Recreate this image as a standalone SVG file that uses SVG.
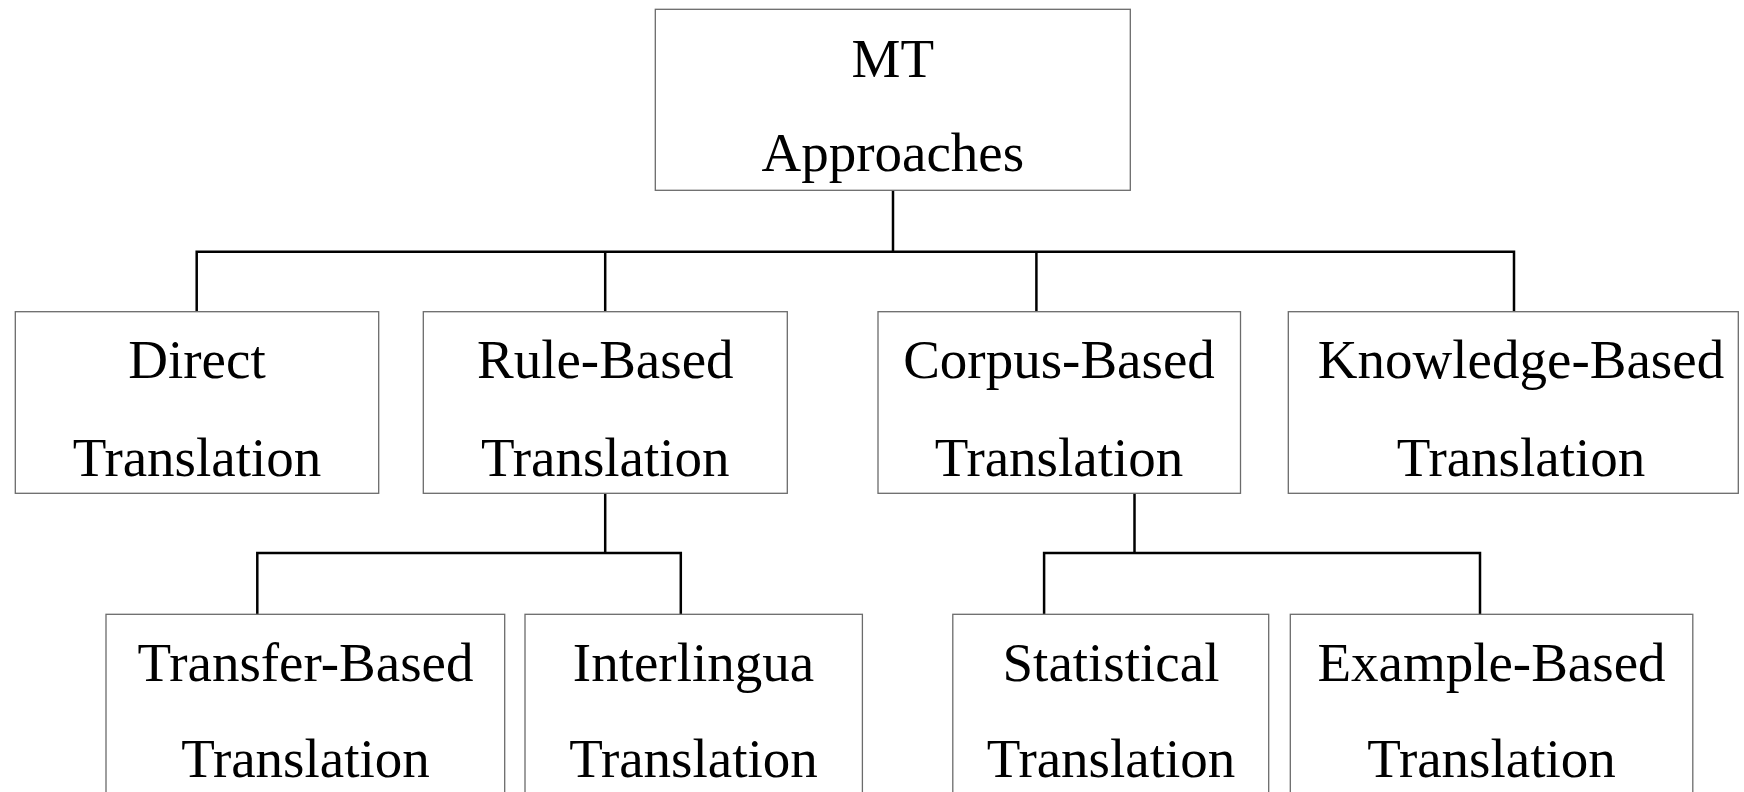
<svg xmlns="http://www.w3.org/2000/svg" width="1744" height="792" viewBox="0 0 1744 792">
  <style>
    .box { fill: #ffffff; stroke: #6b6b6b; stroke-width: 1.3; }
    .label { font-family: "Liberation Serif", "Times New Roman", serif; font-size: 55px; fill: #000000; text-anchor: middle; }
    .wire { fill: none; stroke: #000000; stroke-width: 2.5; stroke-linecap: butt; stroke-linejoin: miter; }
  </style>
  <rect width="1744" height="792" fill="#ffffff"/>

  <!-- tree connectors -->
  <g id="connectors">
    <path class="wire" d="M893,190 V251.8"/>
    <path class="wire" d="M196.7,311 V251.8 H1514 V311"/>
    <path class="wire" d="M605.2,251.8 V311"/>
    <path class="wire" d="M1036.4,251.8 V311"/>
    <path class="wire" d="M605.2,493.5 V553"/>
    <path class="wire" d="M257.3,614.3 V553 H680.8 V614.3"/>
    <path class="wire" d="M1134.5,493.5 V553"/>
    <path class="wire" d="M1044.1,614.3 V553 H1480 V614.3"/>
  </g>

  <!-- root -->
  <g id="node-mt-approaches">
    <rect class="box" x="655.3" y="9.3" width="475" height="181"/>
    <text class="label" x="892.8" y="76.5">MT</text>
    <text class="label" x="892.8" y="171">Approaches</text>
  </g>

  <!-- second level -->
  <g id="node-direct">
    <rect class="box" x="15.3" y="311.7" width="363.4" height="181.6"/>
    <text class="label" x="197" y="378">Direct</text>
    <text class="label" x="197" y="475.5">Translation</text>
  </g>
  <g id="node-rule-based">
    <rect class="box" x="423.3" y="311.7" width="364" height="181.6"/>
    <text class="label" x="605.3" y="378">Rule-Based</text>
    <text class="label" x="605.3" y="475.5">Translation</text>
  </g>
  <g id="node-corpus-based">
    <rect class="box" x="878" y="311.7" width="362.5" height="181.6"/>
    <text class="label" x="1059" y="378">Corpus-Based</text>
    <text class="label" x="1059" y="475.5">Translation</text>
  </g>
  <g id="node-knowledge-based">
    <rect class="box" x="1288.3" y="311.7" width="450" height="181.6"/>
    <text class="label" x="1521" y="378">Knowledge-Based</text>
    <text class="label" x="1521" y="475.5">Translation</text>
  </g>

  <!-- third level -->
  <g id="node-transfer-based">
    <rect class="box" x="106" y="614.3" width="398.7" height="200"/>
    <text class="label" x="305.5" y="681">Transfer-Based</text>
    <text class="label" x="305.5" y="776.5">Translation</text>
  </g>
  <g id="node-interlingua">
    <rect class="box" x="525" y="614.3" width="337.4" height="200"/>
    <text class="label" x="693.5" y="681">Interlingua</text>
    <text class="label" x="693.5" y="776.5">Translation</text>
  </g>
  <g id="node-statistical">
    <rect class="box" x="952.8" y="614.3" width="315.9" height="200"/>
    <text class="label" x="1111" y="681">Statistical</text>
    <text class="label" x="1111" y="776.5">Translation</text>
  </g>
  <g id="node-example-based">
    <rect class="box" x="1290.3" y="614.3" width="402.5" height="200"/>
    <text class="label" x="1491.5" y="681">Example-Based</text>
    <text class="label" x="1491.5" y="776.5">Translation</text>
  </g>
</svg>
